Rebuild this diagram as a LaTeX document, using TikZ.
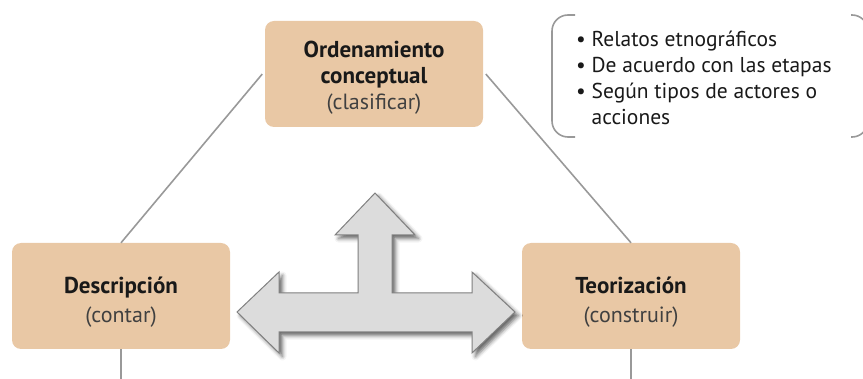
\documentclass[tikz,border=0pt]{standalone}
\usepackage{fontspec}
\setmainfont{PT Sans}
\usetikzlibrary{shadows.blur}
\definecolor{caja}{HTML}{E9C8A5}
\definecolor{flechagris}{HTML}{DCDCDC}
\begin{document}
\begin{tikzpicture}[x=1pt,y=-1pt,
  etapa/.style={fill=caja,rounded corners=9pt,minimum width=218pt,minimum height=106pt,
    align=center,text=black!90,font=\fontsize{22}{26}\selectfont},
  nota/.style={text=black!90,align=left,inner sep=0pt,font=\fontsize{21.5}{26}\selectfont},
  linea/.style={draw=black!40,line width=1.6pt},
  flecha/.style={draw=black!50,fill=flechagris,line width=1pt,
    blur shadow={shadow xshift=3.5pt,shadow yshift=-3.5pt,shadow opacity=60,shadow blur radius=4pt}}]
\useasboundingbox (0,0) rectangle (863,379);
	\node[etapa] (ord) at (374,74) {\rule{0pt}{23pt}\textbf{\fontsize{23}{26}\selectfont Ordenamiento}\\\textbf{\fontsize{23}{26}\selectfont conceptual}\\{\color{black!75}(clasificar)}};
	\node[etapa] (desc) at (121,296) {\rule{0pt}{29pt}\textbf{\fontsize{23}{26}\selectfont Descripción}\\[3pt]{\color{black!75}(contar)}};
	\node[etapa] (teo) at (631,296) {\rule{0pt}{29pt}\textbf{\fontsize{23}{26}\selectfont Teorización}\\[3pt]{\color{black!75}(construir)}};
	\node[nota,anchor=north west] (lista) at (576,31) {• Relatos etnográficos\\• De acuerdo con las etapas\\• Según tipos de actores o\\\phantom{• }acciones};
\coordinate (descfin) at (121,379);
\coordinate (teofin) at (631,379);
\draw[linea,shorten <=4pt] ([yshift=3pt]ord.west) -- (desc.north);
\draw[linea,shorten <=4pt] ([yshift=3pt]ord.east) -- (teo.north);
\draw[linea] (desc.south) -- (descfin);
\draw[linea] (teo.south) -- (teofin);
% llave de la nota
\draw[linea,rounded corners=16pt] (575,15) -- (552,15) -- (552,137) -- (575,137);
\draw[linea,rounded corners=16pt] (851,15) -- (868,15) -- (868,137) -- (851,137);
% flecha de tres puntas
\draw[flecha] (237,312) -- (279,272) -- (279,293) -- (358,293) -- (358,235) -- (335,235)
	-- (375,193) -- (415,235) -- (392,235) -- (392,293) -- (472,293) -- (472,272)
	-- (515,312) -- (472,353) -- (472,332) -- (279,332) -- (279,353) -- cycle;
	\end{tikzpicture}
\end{document}
